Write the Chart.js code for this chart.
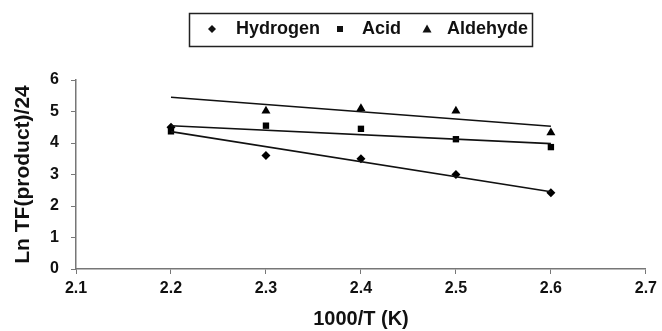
<!DOCTYPE html>
<html>
<head>
<meta charset="utf-8">
<script src="https://cdn.jsdelivr.net/npm/chart.js@4"></script>
<style>
  html, body { margin: 0; padding: 0; background: #fff; }
  #wrap { width: 662px; height: 331px; }
</style>
</head>
<body>
<div id="wrap"><canvas id="tfChart" width="662" height="331"></canvas></div>
<script>
// values
const xValues = [2.2, 2.3, 2.4, 2.5, 2.6];
const hydrogen = [4.5, 3.6, 3.5, 3.0, 2.42];
const acid = [4.37, 4.55, 4.45, 4.12, 3.87];
const aldehydeX = [2.3, 2.4, 2.5, 2.6];
const aldehyde = [5.02, 5.1, 5.02, 4.33];

// trend line ends (at x = 2.2 and 2.6)
const trendX = [2.2, 2.6];
const hydrogenTrend = [4.36, 2.45];
const acidTrend = [4.55, 3.98];
const aldehydeTrend = [5.45, 4.53];

const seriesNames = ['Hydrogen', 'Acid', 'Aldehyde'];
const pointStyles = ['rectRot', 'rect', 'triangle'];

const FONT = "'Liberation Sans', Arial, sans-serif";

function toPoints(xs, ys) {
  return xs.map((x, i) => ({ x: x, y: ys[i] }));
}

// legend with a box around it, like the original
const boxLegend = {
  id: 'boxLegend',
  afterDraw(chart) {
    const ctx = chart.ctx;
    ctx.save();
    ctx.strokeStyle = '#222';
    ctx.lineWidth = 1.5;
    ctx.strokeRect(189.5, 13.5, 343, 33);

    ctx.font = 'bold 18px ' + FONT;
    ctx.fillStyle = '#111';
    ctx.textBaseline = 'middle';
    const markX = [212, 340, 427];
    const textX = [236, 362, 447];
    const cy = 29;
    for (let i = 0; i < 3; i++) {
      ctx.beginPath();
      const mx = markX[i];
      if (i === 0) {
        ctx.moveTo(mx, cy - 4); ctx.lineTo(mx + 4, cy); ctx.lineTo(mx, cy + 4); ctx.lineTo(mx - 4, cy);
      } else if (i === 1) {
        ctx.rect(mx - 3, cy - 3, 6, 6);
      } else {
        ctx.moveTo(mx, cy - 4.5); ctx.lineTo(mx + 4.5, cy + 3.5); ctx.lineTo(mx - 4.5, cy + 3.5);
      }
      ctx.closePath();
      ctx.fill();
      ctx.fillText(seriesNames[i], textX[i], cy);
    }
    ctx.restore();
  }
};

function scatterSet(label, data, style, radius) {
  return {
    label: label,
    data: data,
    showLine: false,
    pointStyle: style,
    pointRadius: radius,
    pointHoverRadius: radius,
    backgroundColor: '#000',
    borderColor: '#000',
    borderWidth: 0
  };
}

function trendSet(data) {
  return {
    label: 'trend',
    data: data,
    showLine: true,
    pointRadius: 0,
    borderColor: '#111',
    borderWidth: 1.6,
    fill: false
  };
}

const ctx = document.getElementById('tfChart').getContext('2d');
const tfChart = new Chart(ctx, {
  type: 'scatter',
  data: {
    datasets: [
      trendSet(toPoints(trendX, hydrogenTrend)),
      trendSet(toPoints(trendX, acidTrend)),
      trendSet(toPoints(trendX, aldehydeTrend)),
      scatterSet(seriesNames[0], toPoints(xValues, hydrogen), pointStyles[0], 4.5),
      scatterSet(seriesNames[1], toPoints(xValues, acid), pointStyles[1], 4.5),
      scatterSet(seriesNames[2], toPoints(aldehydeX, aldehyde), pointStyles[2], 5.2)
    ]
  },
  options: {
    responsive: false,
    animation: false,
    devicePixelRatio: 1,
    layout: { padding: { top: 80, left: 4, right: 13, bottom: 0 } },
    plugins: {
      legend: { display: false },
      tooltip: { enabled: false }
    },
    scales: {
      x: {
        type: 'linear',
        min: 2.1,
        max: 2.7,
        ticks: {
          stepSize: 0.1,
          color: '#111',
          font: { family: FONT, size: 16, weight: 'bold' },
          padding: 5,
          callback: (v) => v.toFixed(1)
        },
        grid: { drawOnChartArea: false, drawTicks: true, tickLength: 5, color: '#777' },
        border: { color: '#777', width: 1.5 },
        title: {
          display: true,
          text: '1000/T (K)',
          color: '#111',
          font: { family: FONT, size: 20, weight: 'bold' },
          padding: { top: 4, bottom: 0 }
        },
        afterFit(scale) { scale.height = 62; }
      },
      y: {
        type: 'linear',
        min: 0,
        max: 6,
        ticks: {
          stepSize: 1,
          color: '#111',
          font: { family: FONT, size: 16, weight: 'bold' },
          padding: 12
        },
        grid: { drawOnChartArea: false, drawTicks: true, tickLength: 5, color: '#777' },
        border: { color: '#777', width: 1.5 },
        title: {
          display: true,
          text: 'Ln TF(product)/24',
          color: '#111',
          font: { family: FONT, size: 21, weight: 'bold' },
          padding: { top: 7, bottom: 0 }
        },
        afterFit(scale) { scale.width = 72; }
      }
    }
  },
  plugins: [boxLegend]
});
</script>
</body>
</html>
